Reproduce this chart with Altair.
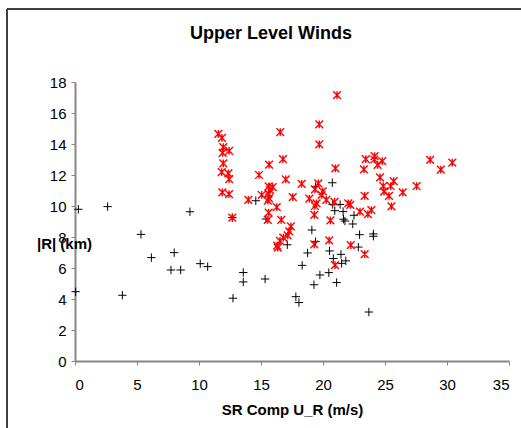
import altair as alt
import pandas as pd

# Series 1: black "+" markers
black_x = [0.27, 2.63, 0.05, 3.82, 5.32, 6.16, 8.0, 7.74, 8.52, 9.27, 10.1, 10.7,
           14.58, 12.69, 15.4, 20.75, 19.4, 20.78, 21.38, 20.95, 21.62, 22.5, 21.65,
           21.77, 22.4, 19.1, 19.4, 17.12, 18.76, 20.53, 21.45, 18.32, 20.83, 21.5,
           21.84, 19.75, 20.47, 19.27, 21.1, 13.57, 13.57, 15.33, 12.74, 17.81,
           18.06, 22.95, 24.06, 24.06, 22.85, 23.7]
black_y = [9.79, 9.96, 4.47, 4.24, 8.17, 6.67, 6.99, 5.87, 5.87, 9.63, 6.28, 6.09,
           10.34, 9.25, 9.16, 11.5, 11.25, 10.1, 10.1, 9.7, 9.64, 9.4, 9.15,
           9.03, 8.84, 8.45, 7.7, 7.5, 6.97, 7.1, 6.88, 6.17, 6.61, 6.3,
           6.46, 5.55, 5.7, 4.92, 5.06, 5.71, 5.1, 5.29, 4.05, 4.15,
           3.77, 8.15, 8.2, 8.05, 7.35, 3.16]

# Series 2: red asterisk markers
red_x = [11.56, 11.85, 11.96, 12.43, 11.9, 11.96, 11.83, 12.37, 12.43, 11.88, 12.42,
         12.69, 13.98, 14.84, 15.06, 15.65, 16.55, 16.77, 17.0, 15.62, 15.94, 15.73,
         15.6, 15.65, 15.55, 16.27, 15.62, 15.55, 16.63, 17.56, 18.28, 18.9, 17.41,
         17.28, 17.15, 16.8, 16.53, 16.3, 16.35, 19.3, 19.3, 20.5, 20.6, 21.0, 19.7,
         19.7, 21.13, 19.62, 19.35, 19.98, 19.89, 19.48, 19.35, 20.27, 20.93, 22.04,
         22.2, 20.97, 22.24, 23.45, 24.16, 24.14, 24.78, 24.4, 23.3, 28.64, 30.43,
         29.5, 24.6, 25.7, 24.86, 25.46, 27.55, 24.92, 26.43, 25.32, 23.36, 25.52,
         22.98, 23.9, 23.62, 23.36]
red_y = [14.65, 14.4, 13.8, 13.55, 13.42, 12.75, 12.18, 12.1, 11.73, 10.88, 10.76,
         9.25, 10.39, 12.0, 10.71, 12.67, 14.76, 13.03, 11.72, 11.27, 11.22, 11.03,
         10.8, 10.49, 10.34, 9.93, 9.57, 9.1, 9.1, 10.57, 11.42, 10.47, 8.69,
         8.37, 8.1, 7.96, 7.75, 7.44, 7.31, 9.42, 7.52, 7.78, 9.07, 12.43, 15.26,
         13.97, 17.16, 11.46, 11.07, 10.95, 10.71, 10.17, 10.0, 10.39, 10.27, 10.17,
         10.08, 6.19, 7.48, 13.02, 13.22, 13.0, 12.9, 12.65, 12.36, 12.98, 12.8,
         12.34, 11.85, 11.6, 11.29, 11.29, 11.29, 10.93, 10.88, 10.66, 10.65, 9.98,
         9.63, 9.74, 9.48, 6.89]

series_names = ["s1", "s2"]
x_ticks = [0, 5, 10, 15, 20, 25, 30, 35]
y_ticks = [0, 2, 4, 6, 8, 10, 12, 14, 16, 18]

FONT = "Liberation Sans"
W, H = 434, 279

df = pd.concat([
    pd.DataFrame({"u": black_x, "r": black_y, "series": series_names[0]}),
    pd.DataFrame({"u": red_x, "r": red_y, "series": series_names[1]}),
], ignore_index=True)

plus_shape = "M-1,0L1,0M0,-1L0,1"
star_shape = "M-1,-1L1,1M-1,1L1,-1M0,-1L0,1"

points = alt.Chart(df).mark_point(filled=False, opacity=1).encode(
    x=alt.X("u:Q", scale=alt.Scale(domain=[0, 35], nice=False, zero=False),
            axis=alt.Axis(values=x_ticks, title="SR Comp U_R (m/s)",
                          labelPadding=12, titleBaseline="alphabetic", titleY=53)),
    y=alt.Y("r:Q", scale=alt.Scale(domain=[0, 18], nice=False, zero=False),
            axis=alt.Axis(values=y_ticks, title="|R| (km)", labelPadding=5,
                          titleAngle=0, titleAlign="center",
                          titleBaseline="alphabetic", titleX=-11, titleY=166)),
    shape=alt.Shape("series:N", scale=alt.Scale(domain=series_names,
                                                range=[plus_shape, star_shape]),
                    legend=None),
    stroke=alt.Stroke("series:N", scale=alt.Scale(domain=series_names,
                                                  range=["#000000", "#FF0000"]),
                      legend=None),
    strokeWidth=alt.StrokeWidth("series:N", scale=alt.Scale(domain=series_names,
                                                            range=[1, 1.4]),
                                legend=None),
    size=alt.Size("series:N", scale=alt.Scale(domain=series_names, range=[70, 60]),
                  legend=None),
)

frame_df = pd.DataFrame({"k": [0]})
left_line = alt.Chart(frame_df).mark_rule(color="#404040", strokeWidth=2).encode(
    x=alt.value(-68), y=alt.value(-73), y2=alt.value(350))
top_line = alt.Chart(frame_df).mark_rule(color="#404040", strokeWidth=2).encode(
    x=alt.value(-68), x2=alt.value(450), y=alt.value(-73))

chart = alt.layer(points, left_line, top_line).properties(
    width=W, height=H,
    title=alt.TitleParams("Upper Level Winds", font=FONT, fontSize=18, fontWeight="bold",
                          color="black", anchor="middle", dx=-21, offset=-49,
                          baseline="alphabetic"),
    autosize=alt.AutoSizeParams(type="none"),
    padding={"left": 75, "top": 82, "right": 12, "bottom": 67},
).configure(background="white").configure_view(stroke=None).configure_axis(
    grid=False, labelOverlap=False, domainColor="#868686", domainWidth=2,
    tickColor="#868686", tickSize=4, tickWidth=1, labelFont=FONT, labelFontSize=15,
    labelColor="black", titleFont=FONT, titleFontSize=15, titleFontWeight="bold",
    titleColor="black",
)

chart.save("out.html", embed_options={"renderer": "svg", "actions": False})
